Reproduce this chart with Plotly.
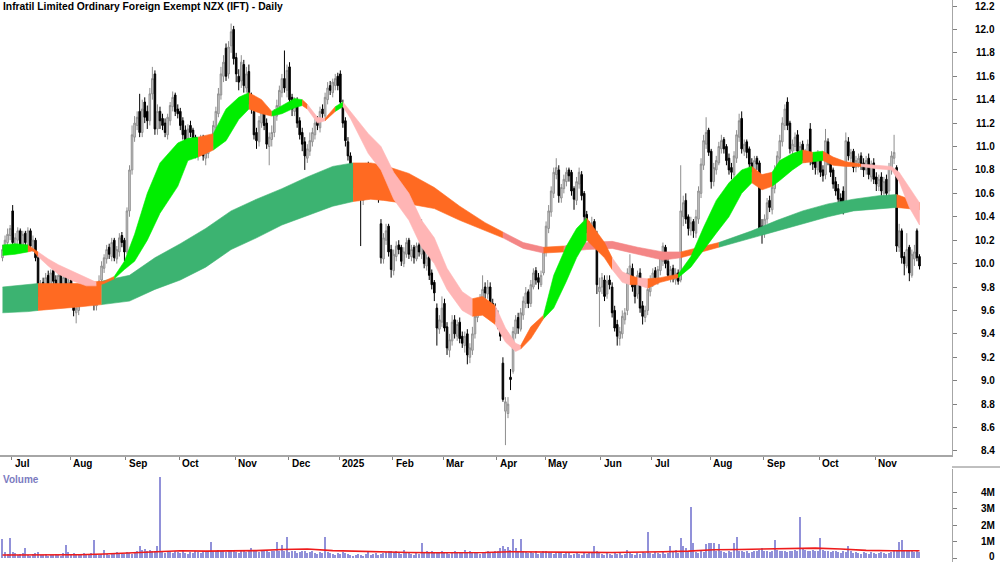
import plotly.graph_objects as go

# ---------------- daily prices ----------------
opens = [
    10.05, 10.12, 10.18, 10.24, 10.45, 10.16, 10.20, 10.28, 10.14, 10.26, 10.16, 10.28, 10.14, 10.20, 10.05,
    9.72, 9.84, 9.76, 9.90, 9.78, 9.94, 9.86, 9.74, 9.92, 9.80, 9.90, 9.74, 9.86, 9.72, 9.58, 9.60, 9.68, 9.80, 9.70, 9.82, 9.78, 9.72, 9.64, 9.72,
    9.86, 9.96, 10.04, 10.14, 10.06, 10.20, 10.04, 10.10, 10.24, 10.20,
    10.10, 10.45, 10.80, 11.08, 11.18, 11.30, 11.12, 11.38, 11.30, 11.22, 11.45, 11.62, 11.15, 11.30,
    11.24, 11.20, 11.10, 11.22, 11.34, 11.44, 11.32, 11.30, 11.22, 11.14, 11.02, 11.18, 11.14, 11.08, 10.92, 10.96, 11.08, 10.90, 10.94, 11.00,
    11.04, 11.16, 11.28, 11.44, 11.60, 11.84, 11.62, 11.86, 12.00, 11.76, 11.60, 11.56, 11.70,
    11.50, 11.64, 11.42, 11.30, 11.12, 11.04, 11.20, 11.32, 11.20, 11.00, 11.06, 11.12, 11.26,
    11.34, 11.46, 11.58, 11.48, 11.68, 11.42, 11.30, 11.38, 11.22, 11.12, 11.04, 10.90, 10.96,
    11.04, 11.10, 11.22, 11.16, 11.32, 11.26, 11.40, 11.52, 11.46, 11.52, 11.60, 11.62, 11.36, 11.22, 11.04, 10.92,
    10.80, 10.62, 10.74, 10.60, 10.54, 10.66, 10.84, 10.80, 10.68, 10.78, 10.70,
    10.34, 10.04, 10.20, 10.32, 10.12, 9.94, 10.06, 10.16, 10.14, 10.00, 10.08, 10.20, 10.06, 10.14, 10.04, 10.16, 10.08, 10.28, 9.98, 10.06, 9.92, 9.84,
    9.62, 9.44, 9.50, 9.66, 9.46, 9.26, 9.34, 9.52, 9.38, 9.50, 9.38, 9.30, 9.40, 9.20, 9.26,
    9.40, 9.54, 9.60, 9.68, 9.80, 9.74, 9.80, 9.66, 9.62, 9.56, 9.48,
    9.15, 8.74, 8.72, 9.03, 9.08, 9.40, 9.54, 9.44, 9.56, 9.66, 9.76, 9.66, 9.80, 9.94, 9.88, 9.82,
    9.92, 10.10, 10.30, 10.44, 10.60, 10.76, 10.80, 10.56, 10.64, 10.70, 10.80, 10.78, 10.64, 10.54, 10.68, 10.76, 10.60, 10.42, 10.32, 10.24, 10.36,
    10.22, 9.76, 9.80, 9.86, 9.74, 9.86, 9.80, 9.60, 9.48, 9.36, 9.40, 9.52, 9.60, 9.90, 9.96, 9.82, 9.74, 9.92, 9.64, 9.54, 9.60, 9.76,
    9.84, 9.94, 9.86, 9.94, 10.02, 10.14, 10.02, 9.88, 9.96, 9.86, 9.92, 9.86, 10.40, 10.54, 10.40, 10.28, 10.36, 10.26,
    10.38, 10.60, 10.84, 11.02, 11.14, 10.96, 10.70, 10.80, 10.86, 10.98, 11.06, 11.00, 10.90, 10.82, 10.76, 10.90, 11.08, 11.24, 10.96, 11.04, 10.98, 10.86, 10.80, 10.90,
    10.86, 10.32, 10.26, 10.38, 10.54, 10.46, 10.64, 10.76, 10.90, 11.04, 11.18, 11.38,
    11.20, 10.96, 11.00, 11.10, 10.94, 11.02, 10.90, 10.94, 11.15, 10.90, 10.88, 10.80, 10.90, 10.80, 10.76, 11.04, 10.86, 10.80, 10.70, 10.64, 10.56, 10.62,
    10.50, 11.04, 10.90, 10.96, 10.82, 10.86, 10.92, 10.86, 10.80, 10.90, 10.74, 10.86, 10.74, 10.66, 10.74, 10.60, 10.72, 10.62, 10.80,
    10.90, 10.82, 10.14, 10.28, 10.06, 9.98, 10.14, 9.90, 10.04, 10.28, 10.06,
]
highs = [
    10.16, 10.24, 10.30, 10.33, 10.50, 10.26, 10.31, 10.30, 10.28, 10.28, 10.31, 10.30, 10.24, 10.22, 10.08,
    9.86, 9.88, 9.92, 9.94, 9.95, 9.97, 9.90, 9.93, 9.95, 9.91, 9.93, 9.88, 9.90, 9.75, 9.66, 9.72, 9.82, 9.83, 9.84, 9.85, 9.80, 9.76, 9.78, 9.90,
    10.02, 10.08, 10.16, 10.17, 10.22, 10.22, 10.15, 10.26, 10.27, 10.22,
    10.48, 10.84, 11.18, 11.26, 11.30, 11.45, 11.40, 11.42, 11.35, 11.50, 11.68, 11.65, 11.36, 11.34,
    11.28, 11.24, 11.28, 11.38, 11.47, 11.46, 11.36, 11.33, 11.25, 11.18, 11.19, 11.22, 11.16, 11.10, 11.02, 11.10, 11.10, 10.99, 11.06, 11.10,
    11.22, 11.34, 11.50, 11.68, 11.78, 11.88, 11.90, 12.05, 12.03, 11.80, 11.66, 11.78, 11.74,
    11.68, 11.70, 11.46, 11.34, 11.16, 11.26, 11.36, 11.35, 11.24, 11.12, 11.18, 11.32, 11.40,
    11.52, 11.62, 11.82, 11.70, 11.72, 11.45, 11.42, 11.42, 11.25, 11.16, 11.08, 11.02, 11.12,
    11.16, 11.24, 11.26, 11.34, 11.36, 11.46, 11.55, 11.56, 11.58, 11.62, 11.63, 11.65, 11.40, 11.25, 11.08, 10.95,
    10.84, 10.76, 10.78, 10.64, 10.72, 10.86, 10.87, 10.83, 10.80, 10.82, 10.74,
    10.38, 10.26, 10.34, 10.34, 10.16, 10.12, 10.19, 10.20, 10.16, 10.14, 10.22, 10.22, 10.16, 10.16, 10.18, 10.18, 10.38, 10.32, 10.08, 10.08, 9.95, 9.86,
    9.66, 9.56, 9.72, 9.70, 9.50, 9.40, 9.56, 9.56, 9.52, 9.54, 9.42, 9.42, 9.44, 9.32, 9.46,
    9.60, 9.66, 9.74, 9.90, 9.84, 9.86, 9.84, 9.70, 9.66, 9.60, 9.52,
    9.20, 8.86, 8.86, 9.10, 9.46, 9.56, 9.58, 9.62, 9.72, 9.80, 9.78, 9.86, 9.96, 9.97, 9.92, 9.94,
    10.14, 10.36, 10.50, 10.66, 10.82, 10.90, 10.84, 10.68, 10.76, 10.82, 10.82, 10.80, 10.66, 10.74, 10.82, 10.79, 10.62, 10.45, 10.36, 10.40, 10.38,
    10.28, 9.88, 9.92, 9.90, 9.90, 9.90, 9.84, 9.64, 9.52, 9.46, 9.60, 9.62, 9.96, 10.08, 10.00, 9.86, 9.94, 9.96, 9.68, 9.64, 9.82, 9.90,
    9.96, 9.97, 9.98, 10.08, 10.18, 10.16, 10.05, 9.98, 9.99, 9.96, 9.95, 10.84, 10.58, 10.60, 10.42, 10.40, 10.38, 10.46,
    10.66, 10.90, 11.10, 11.25, 11.16, 10.98, 10.86, 10.92, 11.04, 11.10, 11.08, 11.02, 10.94, 10.86, 10.96, 11.14, 11.28, 11.30, 11.06, 11.06, 11.00, 10.90, 10.92, 10.92,
    10.88, 10.38, 10.42, 10.56, 10.58, 10.70, 10.84, 10.96, 11.10, 11.25, 11.36, 11.42,
    11.22, 11.06, 11.12, 11.14, 11.04, 11.05, 10.98, 11.06, 11.20, 10.94, 10.92, 10.97, 10.94, 10.84, 11.15, 11.07, 10.90, 10.82, 10.74, 10.68, 10.60, 10.66,
    11.12, 11.08, 10.98, 10.98, 10.92, 10.94, 10.95, 10.90, 10.92, 10.94, 10.88, 10.90, 10.78, 10.76, 10.78, 10.74, 10.76, 10.86, 10.96,
    11.10, 10.84, 10.34, 10.30, 10.10, 10.26, 10.16, 10.12, 10.16, 10.30, 10.08,
]
lows = [
    10.02, 10.08, 10.14, 10.20, 10.14, 10.12, 10.16, 10.12, 10.10, 10.15, 10.13, 10.12, 10.10, 10.02, 9.62,
    9.66, 9.74, 9.72, 9.77, 9.74, 9.82, 9.72, 9.70, 9.78, 9.76, 9.72, 9.70, 9.66, 9.55, 9.49, 9.56, 9.64, 9.68, 9.66, 9.72, 9.66, 9.60, 9.60, 9.68,
    9.84, 9.92, 10.00, 10.04, 10.02, 10.02, 10.00, 10.06, 10.14, 10.02,
    10.08, 10.40, 10.76, 11.04, 11.14, 11.08, 11.08, 11.20, 11.15, 11.18, 11.40, 11.10, 11.10, 11.15,
    11.14, 11.08, 11.06, 11.18, 11.30, 11.26, 11.24, 11.14, 11.06, 10.98, 10.98, 11.08, 11.00, 10.90, 10.88, 10.92, 10.88, 10.84, 10.90, 10.96,
    11.00, 11.12, 11.25, 11.40, 11.55, 11.56, 11.58, 11.80, 11.70, 11.55, 11.48, 11.50, 11.46,
    11.46, 11.36, 11.28, 11.06, 10.98, 11.00, 11.16, 11.14, 10.98, 10.84, 11.00, 11.08, 11.22,
    11.30, 11.42, 11.46, 11.42, 11.36, 11.26, 11.26, 11.16, 11.06, 10.96, 10.80, 10.86, 10.92,
    11.00, 11.06, 11.14, 11.12, 11.24, 11.22, 11.36, 11.44, 11.42, 11.48, 11.48, 11.34, 11.16, 11.00, 10.88, 10.78,
    10.60, 10.58, 10.54, 10.15, 10.50, 10.62, 10.74, 10.66, 10.64, 10.64, 10.52,
    10.00, 10.00, 10.16, 10.06, 9.88, 9.90, 10.02, 10.08, 9.98, 9.97, 10.05, 10.04, 10.02, 10.00, 10.02, 10.06, 10.04, 9.96, 9.94, 9.86, 9.78, 9.68,
    9.30, 9.40, 9.46, 9.42, 9.22, 9.20, 9.30, 9.36, 9.34, 9.32, 9.28, 9.24, 9.14, 9.15, 9.22,
    9.36, 9.50, 9.56, 9.64, 9.70, 9.70, 9.62, 9.55, 9.50, 9.44, 9.34,
    8.82, 8.45, 8.68, 8.92, 9.06, 9.36, 9.40, 9.42, 9.52, 9.62, 9.62, 9.63, 9.78, 9.82, 9.78, 9.80,
    9.90, 10.06, 10.26, 10.40, 10.56, 10.72, 10.52, 10.52, 10.60, 10.66, 10.70, 10.58, 10.46, 10.50, 10.64, 10.54, 10.36, 10.26, 10.18, 10.20, 10.24,
    9.74, 9.46, 9.74, 9.68, 9.70, 9.78, 9.54, 9.42, 9.30, 9.30, 9.36, 9.48, 9.56, 9.86, 9.76, 9.66, 9.70, 9.58, 9.48, 9.50, 9.56, 9.72,
    9.80, 9.84, 9.82, 9.90, 9.98, 9.96, 9.86, 9.84, 9.84, 9.82, 9.82, 9.84, 10.32, 10.34, 10.24, 10.24, 10.22, 10.22,
    10.34, 10.56, 10.80, 10.98, 10.92, 10.64, 10.66, 10.76, 10.84, 10.94, 10.94, 10.84, 10.76, 10.72, 10.72, 10.86, 11.04, 10.94, 10.92, 10.90, 10.82, 10.78, 10.76, 10.80,
    10.26, 10.17, 10.22, 10.34, 10.44, 10.42, 10.60, 10.72, 10.86, 11.00, 11.14, 11.14,
    10.94, 10.92, 10.96, 10.92, 10.90, 10.88, 10.86, 10.90, 10.84, 10.80, 10.76, 10.76, 10.74, 10.70, 10.72, 10.84, 10.74, 10.64, 10.58, 10.50, 10.46, 10.42,
    10.46, 10.88, 10.86, 10.78, 10.78, 10.82, 10.80, 10.74, 10.76, 10.72, 10.70, 10.68, 10.62, 10.62, 10.58, 10.56, 10.56, 10.58, 10.76,
    10.85, 10.10, 10.10, 10.00, 9.90, 9.96, 9.85, 9.88, 9.98, 10.02, 9.95,
]
closes = [
    10.12, 10.20, 10.25, 10.30, 10.18, 10.22, 10.28, 10.15, 10.25, 10.18, 10.28, 10.15, 10.20, 10.05, 9.72,
    9.82, 9.78, 9.88, 9.80, 9.92, 9.85, 9.76, 9.90, 9.82, 9.88, 9.75, 9.84, 9.70, 9.60, 9.62, 9.68, 9.78, 9.72, 9.80, 9.76, 9.70, 9.66, 9.74, 9.85,
    9.98, 10.05, 10.12, 10.08, 10.18, 10.05, 10.12, 10.22, 10.18, 10.10,
    10.45, 10.80, 11.10, 11.20, 11.25, 11.12, 11.32, 11.25, 11.22, 11.45, 11.58, 11.15, 11.30, 11.22,
    11.18, 11.12, 11.25, 11.35, 11.42, 11.30, 11.28, 11.18, 11.10, 11.05, 11.15, 11.12, 11.05, 10.95, 10.98, 11.05, 10.92, 10.95, 11.02, 11.05,
    11.18, 11.30, 11.45, 11.62, 11.72, 11.60, 11.85, 11.98, 11.75, 11.62, 11.55, 11.72, 11.52,
    11.62, 11.40, 11.32, 11.10, 11.05, 11.22, 11.30, 11.18, 11.02, 11.08, 11.12, 11.28, 11.35,
    11.48, 11.58, 11.50, 11.65, 11.40, 11.32, 11.38, 11.20, 11.10, 11.02, 10.92, 10.98, 11.05,
    11.12, 11.20, 11.18, 11.30, 11.28, 11.42, 11.50, 11.48, 11.55, 11.58, 11.52, 11.38, 11.20, 11.05, 10.92, 10.82,
    10.65, 10.72, 10.58, 10.55, 10.68, 10.80, 10.78, 10.70, 10.76, 10.68, 10.56,
    10.05, 10.22, 10.28, 10.10, 9.95, 10.08, 10.15, 10.12, 10.02, 10.10, 10.18, 10.08, 10.12, 10.05, 10.15, 10.10, 10.30, 10.00, 10.05, 9.90, 9.82, 9.75,
    9.45, 9.52, 9.62, 9.45, 9.28, 9.35, 9.50, 9.40, 9.48, 9.36, 9.32, 9.38, 9.22, 9.28, 9.40,
    9.55, 9.62, 9.70, 9.78, 9.75, 9.80, 9.65, 9.60, 9.55, 9.48, 9.38,
    8.84, 8.82, 8.80, 9.01, 9.42, 9.52, 9.45, 9.58, 9.68, 9.75, 9.66, 9.82, 9.92, 9.86, 9.84, 9.90,
    10.10, 10.32, 10.45, 10.62, 10.78, 10.82, 10.58, 10.65, 10.72, 10.78, 10.75, 10.62, 10.55, 10.70, 10.78, 10.58, 10.40, 10.30, 10.25, 10.35, 10.28,
    9.82, 9.80, 9.88, 9.72, 9.85, 9.82, 9.58, 9.45, 9.38, 9.42, 9.55, 9.58, 9.92, 9.98, 9.80, 9.72, 9.90, 9.62, 9.55, 9.60, 9.78, 9.85,
    9.92, 9.88, 9.95, 10.05, 10.15, 10.00, 9.90, 9.95, 9.88, 9.92, 9.85, 10.45, 10.52, 10.38, 10.30, 10.35, 10.28, 10.40,
    10.62, 10.85, 11.05, 11.12, 10.95, 10.70, 10.82, 10.88, 11.00, 11.05, 10.98, 10.88, 10.80, 10.78, 10.92, 11.10, 11.22, 10.98, 11.02, 10.95, 10.85, 10.82, 10.88, 10.85,
    10.30, 10.25, 10.38, 10.52, 10.48, 10.65, 10.78, 10.92, 11.05, 11.20, 11.32, 11.18,
    10.98, 11.02, 11.08, 10.96, 11.00, 10.92, 10.95, 11.02, 10.88, 10.85, 10.82, 10.92, 10.78, 10.75, 11.05, 10.88, 10.78, 10.68, 10.62, 10.55, 10.50, 10.44,
    11.05, 10.92, 10.95, 10.82, 10.88, 10.90, 10.85, 10.80, 10.88, 10.76, 10.85, 10.72, 10.68, 10.72, 10.62, 10.70, 10.60, 10.82, 10.92,
    10.95, 10.15, 10.28, 10.05, 10.00, 10.12, 9.92, 10.08, 10.10, 10.05, 9.98,
]

# ---------------- daily volume, millions ----------------
volume_m = [
    1.15, 0.35, 0.25, 1.20, 0.35, 0.30, 0.20, 0.25, 0.30, 0.60, 0.20, 0.15, 0.22, 0.30, 0.35, 0.18, 0.20, 0.25, 0.15, 0.20,
    0.18, 0.22, 0.20, 0.15, 0.30, 0.80, 0.35, 0.25, 0.30, 0.20, 0.25, 0.22, 0.30, 0.20, 0.25, 0.30, 1.10, 0.25, 0.20, 0.22,
    0.50, 0.25, 0.20, 0.30, 0.25, 0.35, 0.22, 0.30, 0.25, 0.35, 0.30, 0.25, 0.30, 0.40, 0.75, 0.50, 0.55, 0.45, 0.50, 0.40,
    0.45, 0.70, 4.90, 0.35, 0.30, 0.40, 0.35, 0.30, 0.45, 0.35, 0.30, 0.40, 0.30, 0.25, 0.35, 0.30, 0.40, 0.35, 0.30, 0.45,
    0.40, 0.35, 0.95, 0.40, 0.45, 0.50, 0.40, 0.45, 0.35, 0.40, 0.45, 0.40, 0.35, 0.30, 0.40, 0.45, 0.35, 0.40, 0.60, 0.40,
    0.45, 0.35, 0.40, 0.50, 0.40, 0.35, 0.45, 0.40, 1.00, 0.45, 0.80, 0.40, 1.30, 0.35, 0.40, 0.45, 0.30, 0.35, 0.40, 0.45,
    0.30, 0.35, 0.40, 0.30, 0.25, 0.35, 0.30, 1.25, 0.35, 0.30, 0.25, 0.20, 0.30, 0.25, 0.35, 0.30, 0.25, 0.20, 0.15, 0.20,
    0.25, 0.20, 0.15, 0.25, 0.40, 0.20, 0.25, 0.30, 0.20, 0.25, 0.30, 0.35, 0.40, 0.45, 0.35, 0.45, 0.30, 0.25, 0.50, 0.35,
    0.30, 0.25, 0.20, 0.30, 0.25, 0.90, 0.35, 0.45, 0.30, 0.40, 0.35, 0.30, 0.35, 0.40, 0.30, 0.35, 0.25, 0.30, 0.40, 0.30,
    0.35, 0.30, 0.50, 0.35, 0.40, 0.30, 0.35, 0.30, 0.25, 0.35, 0.30, 0.45, 0.35, 0.30, 0.40, 0.45, 0.60, 0.70, 0.55, 0.65,
    0.50, 1.15, 0.60, 0.45, 1.15, 0.40, 0.35, 0.30, 0.35, 0.30, 0.40, 0.25, 0.30, 0.45, 0.40, 0.35, 0.30, 0.25, 0.30, 0.35,
    0.30, 0.25, 0.35, 0.30, 0.20, 0.25, 0.30, 0.25, 0.20, 0.30, 0.25, 0.35, 0.30, 0.75, 0.40, 0.30, 0.25, 0.20, 0.30, 0.25,
    0.20, 0.30, 0.25, 0.30, 0.20, 0.25, 0.50, 0.30, 0.25, 0.20, 0.30, 0.25, 0.35, 0.30, 1.60, 0.30, 0.25, 0.35, 0.30, 0.25,
    0.35, 0.25, 0.30, 0.70, 0.35, 0.50, 0.30, 1.20, 0.75, 0.60, 0.40, 3.10, 0.90, 0.35, 0.30, 0.40, 0.35, 0.85, 0.90, 0.90,
    0.90, 0.40, 0.85, 0.40, 0.35, 0.30, 0.45, 0.35, 0.90, 1.30, 0.40, 0.45, 0.35, 0.40, 0.30, 0.35, 0.40, 0.45, 0.50, 0.60,
    0.45, 0.40, 0.35, 0.40, 1.10, 0.50, 0.40, 0.45, 0.40, 0.35, 0.45, 0.40, 0.50, 0.45, 2.50, 0.55, 0.50, 0.45, 0.40, 0.50,
    0.45, 0.40, 1.20, 0.50, 0.45, 0.40, 0.35, 0.45, 0.40, 0.35, 0.30, 0.40, 0.35, 0.75, 0.40, 0.30, 0.35, 0.30, 0.25, 0.35,
    0.30, 0.25, 0.35, 0.30, 0.25, 0.30, 0.35, 0.30, 0.25, 0.30, 0.35, 0.40, 0.50, 1.00, 1.10, 0.45, 0.50, 0.45, 0.40, 0.35, 0.40, 0.35,
]

# volume moving average (red line), read at sample bars
vol_ma_idx = [0, 10, 20, 30, 40, 50, 60, 70, 80, 90, 100, 110, 120, 130, 140, 150, 160, 170, 180,
              190, 200, 210, 220, 230, 240, 250, 260, 270, 280, 290, 300, 310, 320, 330, 340, 350, 361]
vol_ma_val = [0.18, 0.18, 0.18, 0.20, 0.24, 0.30, 0.40, 0.44, 0.42, 0.44, 0.45, 0.52, 0.55, 0.45, 0.40, 0.36, 0.33, 0.32, 0.32,
              0.33, 0.38, 0.38, 0.36, 0.34, 0.33, 0.34, 0.38, 0.42, 0.50, 0.52, 0.55, 0.58, 0.60, 0.55, 0.46, 0.44, 0.44]

# ---------------- long-term MA ribbon (bar index, top, bottom, colour code) ----------------
lr_idx = [0, 10, 14, 20, 30, 39, 50, 60, 70, 80, 90, 100, 110, 120, 130, 138, 145, 150, 160, 170, 180, 190,
          197, 205, 213, 221, 230, 240, 250, 260, 267, 275, 282, 295, 305, 315, 325, 335, 345, 352, 361]
lr_hi = [9.80, 9.82, 9.83, 9.83, 9.83, 9.85, 9.90, 10.05, 10.17, 10.30, 10.45, 10.55, 10.64, 10.74, 10.83, 10.86, 10.86, 10.84, 10.77, 10.65, 10.49, 10.35,
         10.27, 10.18, 10.14, 10.15, 10.18, 10.19, 10.14, 10.10, 10.10, 10.14, 10.18, 10.28, 10.37, 10.45, 10.51, 10.55, 10.58, 10.59, 10.52]
lr_lo = [9.58, 9.59, 9.60, 9.61, 9.63, 9.65, 9.68, 9.78, 9.86, 9.97, 10.12, 10.22, 10.33, 10.41, 10.49, 10.53, 10.55, 10.54, 10.51, 10.47, 10.37, 10.28,
         10.22, 10.13, 10.09, 10.10, 10.12, 10.13, 10.08, 10.03, 10.05, 10.10, 10.14, 10.22, 10.28, 10.34, 10.40, 10.45, 10.47, 10.48, 10.46]
lr_col = ["G", "G", "O", "O", "O", "G", "G", "G", "G", "G", "G", "G", "G", "G", "G", "O", "O", "O", "O", "O", "O", "O",
          "S", "S", "O", "S", "S", "S", "S", "S", "O", "O", "G", "G", "G", "G", "G", "G", "G", "O", "O"]

# ---------------- short-term MA ribbon ----------------
sr_idx = [0, 5, 10, 12, 14, 18, 22, 28, 33, 37, 40, 44, 48, 52, 57, 62, 69, 73, 77, 83, 88, 93, 97, 102, 106, 110,
          115, 118, 120, 124, 127, 131, 134, 137, 144, 149, 154, 160, 165, 170, 175, 181, 185, 189, 194, 198, 202,
          204, 208, 213, 217, 222, 226, 230, 233, 237, 240, 244, 247, 250, 254, 259, 266, 271, 276, 281, 286, 291,
          295, 299, 303, 306, 311, 315, 319, 323, 327, 332, 338, 344, 350, 353, 357, 361]
sr_hi = [10.16, 10.17, 10.16, 10.13, 10.10, 10.04, 9.99, 9.93, 9.88, 9.84, 9.85, 9.89, 10.02, 10.25, 10.60, 10.86, 11.03, 11.07, 11.08, 11.11, 11.32, 11.42, 11.46, 11.40, 11.30, 11.35,
         11.41, 11.40, 11.36, 11.25, 11.24, 11.34, 11.38, 11.30, 11.11, 11.00, 10.78, 10.60, 10.37, 10.22, 9.96, 9.76, 9.70, 9.72, 9.64, 9.45, 9.32,
         9.30, 9.46, 9.56, 9.90, 10.15, 10.30, 10.39, 10.30, 10.18, 10.05, 9.93, 9.90, 9.88, 9.87, 9.88, 9.91, 10.06, 10.31, 10.54, 10.69, 10.80,
         10.83, 10.76, 10.78, 10.88, 10.94, 10.97, 10.95, 10.96, 10.91, 10.87, 10.85, 10.84, 10.83, 10.78, 10.65, 10.52]
sr_lo = [10.07, 10.08, 10.10, 10.11, 10.06, 9.98, 9.91, 9.85, 9.81, 9.81, 9.83, 9.87, 9.95, 10.02, 10.20, 10.43, 10.66, 10.88, 10.91, 10.97, 11.05, 11.23, 11.32, 11.28, 11.26, 11.28,
         11.33, 11.35, 11.32, 11.20, 11.22, 11.30, 11.34, 11.24, 10.94, 10.80, 10.55, 10.37, 10.14, 10.00, 9.78, 9.60, 9.55, 9.56, 9.48, 9.33, 9.25,
         9.27, 9.36, 9.53, 9.62, 9.85, 10.05, 10.20, 10.14, 10.05, 9.95, 9.84, 9.82, 9.82, 9.79, 9.84, 9.88, 9.97, 10.12, 10.26, 10.40, 10.60,
         10.69, 10.63, 10.66, 10.71, 10.80, 10.86, 10.87, 10.88, 10.84, 10.83, 10.83, 10.81, 10.80, 10.70, 10.48, 10.33]
sr_col = ["G", "G", "O", "O", "P", "P", "P", "P", "P", "O", "O", "G", "G", "G", "G", "G", "G", "G", "O", "G", "G", "G", "O", "O", "G", "G",
          "G", "O", "P", "P", "O", "G", "P", "P", "P", "P", "P", "P", "P", "P", "P", "P", "O", "O", "P", "P", "P",
          "O", "O", "G", "G", "G", "G", "O", "O", "O", "P", "P", "O", "P", "O", "O", "G", "G", "G", "G", "G", "G",
          "O", "O", "G", "G", "G", "O", "G", "O", "O", "O", "P", "P", "P", "P", "P", "P"]

# ---------------- axis labels ----------------
month_idx = [4, 27, 49, 70, 92, 113, 133, 154, 174, 195, 214, 236, 256, 279, 300, 322, 344]
month_txt = ["Jul", "Aug", "Sep", "Oct", "Nov", "Dec", "2025", "Feb", "Mar", "Apr", "May", "Jun",
             "Jul", "Aug", "Sep", "Oct", "Nov"]
price_ticks = [8.4, 8.6, 8.8, 9.0, 9.2, 9.4, 9.6, 9.8, 10.0, 10.2, 10.4, 10.6, 10.8, 11.0, 11.2, 11.4, 11.6, 11.8, 12.0, 12.2]
vol_ticks = [0, 1, 2, 3, 4]
vol_tick_txt = ["0", "1M", "2M", "3M", "4M"]

TITLE = "Infratil Limited Ordinary Foreign Exempt NZX (IFT) - Daily"

# ---------------- layout constants ----------------
W, H = 1000, 562
RIGHT = 48
PLOT_W = W - RIGHT
X_RANGE = [-0.984, 373.8]
PRICE_RANGE = [8.3656, 12.2512]
VOL_RANGE = [-0.242, 5.394]
PRICE_DOM = [(H - 455) / H, 1.0]
VOL_DOM = [0.0, (H - 469) / H]
FONT = "Liberation Sans, Arial, sans-serif"
LABEL_X = 997 / PLOT_W

LR_COLORS = {"G": "#3cb371", "O": "#ff6a22", "S": "#f48686"}
SR_COLORS = {"G": "#00ee00", "O": "#ff6a22", "P": "#ffb5b5"}

n = min(len(opens), len(highs), len(lows), len(closes))
bars_x = list(range(n))

fig = go.Figure()


def add_ribbon(idx, hi, lo, codes, palette):
    m = min(len(idx), len(hi), len(lo), len(codes))
    runs = []
    s = 0
    for k in range(1, m):
        if codes[k] != codes[s] or k == m - 1:
            runs.append((s, k, codes[s]))
            s = k
    for a, b, c in runs:
        xs = list(idx[a:b + 1]) + list(idx[a:b + 1])[::-1]
        ys = list(hi[a:b + 1]) + list(lo[a:b + 1])[::-1]
        fig.add_trace(go.Scatter(
            x=xs, y=ys, mode="lines", fill="toself", fillcolor=palette[c],
            line=dict(color=palette[c], width=0.6), hoverinfo="skip", showlegend=False,
            xaxis="x", yaxis="y"))


add_ribbon(lr_idx, lr_hi, lr_lo, lr_col, LR_COLORS)
add_ribbon(sr_idx, sr_hi, sr_lo, sr_col, SR_COLORS)

fig.add_trace(go.Candlestick(
    x=bars_x, open=opens[:n], high=highs[:n], low=lows[:n], close=closes[:n],
    increasing=dict(line=dict(color="#8e8e8e", width=1), fillcolor="#d4d4d4"),
    decreasing=dict(line=dict(color="#000000", width=1), fillcolor="#000000"),
    whiskerwidth=0, hoverinfo="skip", showlegend=False, xaxis="x", yaxis="y"))

nv = len(volume_m)
fig.add_trace(go.Bar(
    x=list(range(nv)), y=volume_m, width=0.45,
    marker=dict(color="#9191d9", line=dict(width=0)),
    hoverinfo="skip", showlegend=False, xaxis="x2", yaxis="y2"))

fig.add_trace(go.Scatter(
    x=vol_ma_idx, y=vol_ma_val, mode="lines",
    line=dict(color="#ee1c1c", width=1.6),
    hoverinfo="skip", showlegend=False, xaxis="x2", yaxis="y2"))

annotations = [dict(
    text="<b>" + TITLE + "</b>", xref="paper", yref="paper", x=0, y=1,
    xanchor="left", yanchor="top", xshift=1, yshift=1, showarrow=False,
    font=dict(family=FONT, size=10.3, color="#000000"))]

for v in price_ticks:
    annotations.append(dict(
        text="<b>%.1f</b>" % v, xref="paper", yref="y", x=LABEL_X, y=v,
        xanchor="right", yanchor="middle", showarrow=False,
        font=dict(family=FONT, size=10, color="#000000")))

for v, t in zip(vol_ticks, vol_tick_txt):
    annotations.append(dict(
        text="<b>" + t + "</b>", xref="paper", yref="y2", x=LABEL_X, y=v,
        xanchor="right", yanchor="middle", yshift=(2 if v == 0 else 0), showarrow=False,
        font=dict(family=FONT, size=10, color="#000000")))

for m, t in zip(month_idx, month_txt):
    annotations.append(dict(
        text="<b>" + t + "</b>", xref="x", yref="paper", x=m - 0.4, y=(H - 463) / H,
        xanchor="left", yanchor="middle", xshift=1, showarrow=False,
        font=dict(family=FONT, size=10, color="#000000")))

annotations.append(dict(
    text="<b>Volume</b>", xref="paper", yref="paper", x=0, y=(H - 479) / H,
    xanchor="left", yanchor="middle", xshift=1, showarrow=False,
    font=dict(family=FONT, size=10, color="#7b7bbf")))

fig.update_layout(
    width=W, height=H,
    margin=dict(l=0, r=RIGHT, t=0, b=0, pad=0),
    paper_bgcolor="#ffffff", plot_bgcolor="#ffffff",
    showlegend=False, boxgap=0.12, bargap=0,
    xaxis=dict(domain=[0, 1], range=X_RANGE, anchor="y", showgrid=False, zeroline=False,
               showline=True, linecolor="#a6a6a6", linewidth=2,
               ticks="outside", ticklen=3, tickcolor="#808080",
               tickvals=[m - 0.4 for m in month_idx], showticklabels=False,
               rangeslider=dict(visible=False), fixedrange=True),
    yaxis=dict(domain=PRICE_DOM, range=PRICE_RANGE, side="right", anchor="x",
               showgrid=False, zeroline=False, showline=True, linecolor="#a6a6a6", linewidth=1,
               ticks="outside", ticklen=4, tickcolor="#808080", tickvals=price_ticks,
               showticklabels=False, fixedrange=True),
    xaxis2=dict(domain=[0, 1], range=X_RANGE, anchor="y2", showgrid=False, zeroline=False,
                showline=False, showticklabels=False, ticks="", fixedrange=True),
    yaxis2=dict(domain=VOL_DOM, range=VOL_RANGE, side="right", anchor="x2",
                showgrid=False, zeroline=False, showline=True, linecolor="#a6a6a6", linewidth=1,
                ticks="outside", ticklen=4, tickcolor="#808080", tickvals=vol_ticks,
                showticklabels=False, fixedrange=True),
    annotations=annotations,
    shapes=[dict(type="line", xref="paper", yref="paper", x0=1, x1=W / PLOT_W,
                 y0=(H - 467) / H, y1=(H - 467) / H, line=dict(color="#808080", width=1))],
)

fig.write_html("out.html")
